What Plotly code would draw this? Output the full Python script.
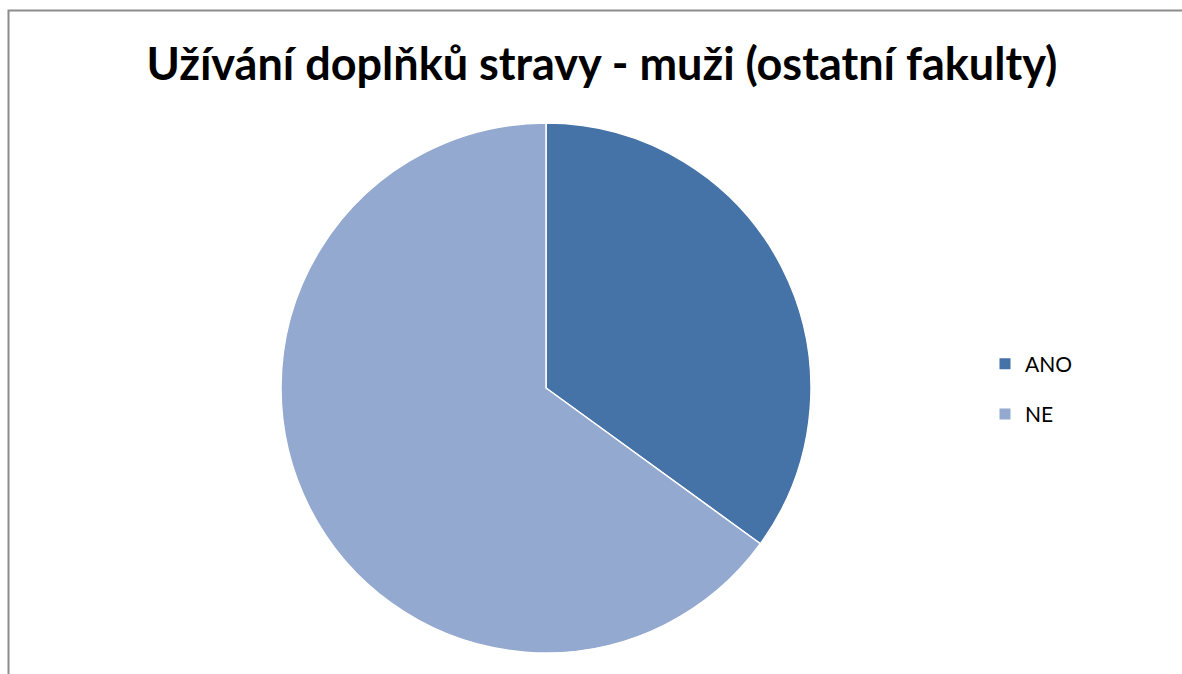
import plotly.graph_objects as go

# Share of male students (other faculties) using dietary supplements
labels = ["ANO", "NE"]
values = [35, 65]
colors = ["#4572A7", "#94A9D0"]
title_text = "Užívání doplňků stravy - muži (ostatní fakulty)"

W, H = 1182, 674

fig = go.Figure()

fig.add_trace(go.Pie(
    labels=labels,
    values=values,
    marker=dict(colors=colors, line=dict(color="white", width=1.5)),
    sort=False,
    direction="clockwise",
    rotation=0,
    textinfo="none",
    hoverinfo="label+value+percent",
    showlegend=False,
    domain=dict(x=[281 / W, 811 / W], y=[1 - 653 / H, 1 - 123 / H]),
))

# Legend entries, one group per category so the rows can be spaced apart
for lab, col in zip(labels, colors):
    fig.add_trace(go.Scatter(
        x=[None], y=[None], mode="markers", name=lab,
        marker=dict(symbol="square", size=11, color=col),
        legendgroup=lab, showlegend=True,
    ))

fig.update_layout(
    width=W, height=H,
    margin=dict(l=0, r=0, t=0, b=0),
    paper_bgcolor="white",
    plot_bgcolor="white",
    xaxis=dict(visible=False),
    yaxis=dict(visible=False),
    title=dict(
        text=title_text,
        font=dict(family="Lato", size=45, color="black", weight="bold"),
        x=602 / W, xanchor="center",
        y=1 - 64 / H, yanchor="middle",
    ),
    legend=dict(
        x=985 / W, xanchor="left",
        y=1 - 389 / H, yanchor="middle",
        font=dict(family="Lato", size=21, color="black"),
        tracegroupgap=20,
        bgcolor="rgba(0,0,0,0)",
    ),
    shapes=[dict(
        type="rect", xref="paper", yref="paper",
        x0=8.5 / W, x1=1.05, y0=-0.05, y1=1 - 10.5 / H,
        line=dict(color="#8C8C8C", width=2),
        fillcolor="rgba(0,0,0,0)",
        layer="below",
    )],
)

fig.write_html("out.html")
